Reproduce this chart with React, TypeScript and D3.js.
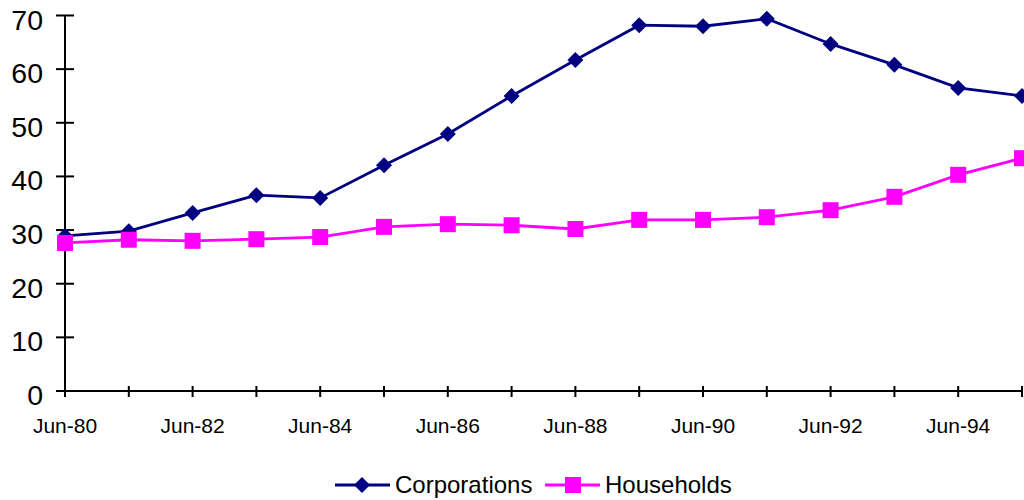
import React from "react";
import * as d3 from "d3";

const categories = ["Jun-80","Jun-81","Jun-82","Jun-83","Jun-84","Jun-85","Jun-86","Jun-87","Jun-88","Jun-89","Jun-90","Jun-91","Jun-92","Jun-93","Jun-94","Jun-95"];
const corporations = [28.9, 29.8, 33.2, 36.5, 36.0, 42.1, 47.9, 55.0, 61.7, 68.2, 68.0, 69.4, 64.7, 60.8, 56.5, 55.0];
const households = [27.6, 28.2, 28.0, 28.3, 28.7, 30.6, 31.1, 30.9, 30.2, 31.9, 31.9, 32.4, 33.7, 36.2, 40.3, 43.4];
const yTicks = [0, 10, 20, 30, 40, 50, 60, 70];

export default function App() {
  const W = 1024, H = 500;
  const x = d3.scalePoint<string>().domain(categories).range([65, 1022]);
  const y = d3.scaleLinear().domain([0, 70]).range([391, 15.5]);
  const line = (vals: number[]) =>
    d3.line<number>().x((_, i) => x(categories[i])!).y(d => y(d))(vals)!;
  const font = "Arial, 'Liberation Sans', sans-serif";
  const navy = "#000080";
  const mag = "#FF00FF";
  const diamond = (cx: number, cy: number, r = 8) =>
    `M${cx},${cy - r}L${cx + r},${cy}L${cx},${cy + r}L${cx - r},${cy}Z`;
  return (
    <svg width={W} height={H} style={{ position: "absolute", left: 0, top: 0 }}>
      <rect width={W} height={H} fill="#fff" />
      {/* axes */}
      <line x1={65} x2={65} y1={15.5} y2={391} stroke="#000" strokeWidth={2} />
      <line x1={65} x2={1022} y1={391} y2={391} stroke="#000" strokeWidth={2} />
      {yTicks.map(t => (
        <g key={t}>
          <line x1={56} x2={74} y1={y(t)} y2={y(t)} stroke="#000" strokeWidth={2} />
          <text x={43} y={y(t) + 14} textAnchor="end" fontFamily={font} fontSize={28.5} fill="#000">{t}</text>
        </g>
      ))}
      {categories.map((c, i) => (
        <g key={c}>
          <line x1={x(c)!} x2={x(c)!} y1={386} y2={397} stroke="#000" strokeWidth={2} />
          {i % 2 === 0 && (
            <text x={x(c)!} y={433} textAnchor="middle" fontFamily={font} fontSize={21} fill="#000">{c}</text>
          )}
        </g>
      ))}
      {/* series */}
      <path d={line(corporations)} fill="none" stroke={navy} strokeWidth={2.8} />
      {corporations.map((v, i) => (
        <path key={i} d={diamond(x(categories[i])!, y(v))} fill={navy} />
      ))}
      <path d={line(households)} fill="none" stroke={mag} strokeWidth={2.8} />
      {households.map((v, i) => (
        <rect key={i} x={x(categories[i])! - 8} y={y(v) - 8} width={16} height={16} fill={mag} />
      ))}
      {/* legend */}
      <line x1={335} x2={390} y1={485} y2={485} stroke={navy} strokeWidth={2.8} />
      <path d={diamond(362, 485)} fill={navy} />
      <text x={395} y={493} fontFamily={font} fontSize={24} fill="#000">Corporations</text>
      <line x1={545} x2={600} y1={485} y2={485} stroke={mag} strokeWidth={2.8} />
      <rect x={565} y={477} width={16} height={16} fill={mag} />
      <text x={605} y={493} fontFamily={font} fontSize={24} fill="#000">Households</text>
    </svg>
  );
}
